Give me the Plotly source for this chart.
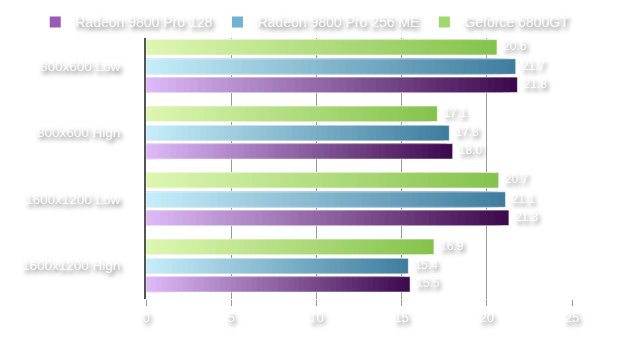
import plotly.graph_objects as go

categories = ["800x600 Low", "800x600 High", "1600x1200 Low", "1600x1200 High"]
series_names = ["Radeon 9800 Pro 128", "Radeon 9800 Pro 256 ME", "Geforce 6800GT"]
radeon_128 = [21.8, 18.0, 21.3, 15.5]
radeon_256 = [21.7, 17.8, 21.1, 15.4]
geforce = [20.6, 17.1, 20.7, 16.9]
x_ticks = [0, 5, 10, 15, 20, 25]

# style
series_values = [radeon_128, radeon_256, geforce]
offsets = [0.28, 0.005, -0.285]          # vertical offset within category
light = [(222, 186, 248), (198, 238, 250), (222, 247, 178)]
dark = [(60, 8, 76), (62, 124, 158), (132, 194, 76)]
legend_col = ["#9a5ab8", "#6eb2d4", "#9fd86c"]
BAR_W = 0.233
N = 50
FONT = "Liberation Sans, Arial, sans-serif"
SHADOW = "2px 3px 4px rgba(0,0,0,0.55)"


def mix(a, b, t):
    return "rgb(%d,%d,%d)" % tuple(round(a[j] + (b[j] - a[j]) * t) for j in range(3))


fig = go.Figure()

for s, vals in enumerate(series_values):
    xs, ys, cols = [], [], []
    for i, v in enumerate(vals):
        for k in range(N - 1, -1, -1):
            xs.append(v * (k + 1) / N)
            ys.append(i + offsets[s])
            cols.append(mix(light[s], dark[s], (k + 0.5) / N))
    fig.add_trace(go.Bar(
        x=xs, y=ys, base=0, orientation="h", width=BAR_W,
        marker=dict(color=cols, line=dict(width=0)),
        showlegend=False, hoverinfo="skip",
    ))
    # faint outline
    fig.add_trace(go.Bar(
        x=vals, y=[i + offsets[s] for i in range(len(vals))], orientation="h",
        width=BAR_W,
        marker=dict(color="rgba(0,0,0,0)", line=dict(color="rgba(255,255,255,0.6)", width=1)),
        showlegend=False, hoverinfo="skip",
    ))
    # value labels
    fig.add_trace(go.Scatter(
        x=vals, y=[i + offsets[s] for i in range(len(vals))],
        mode="markers+text", text=["%.1f" % v for v in vals],
        textposition="middle right",
        marker=dict(size=8, opacity=0),
        textfont=dict(color="white", size=12, family=FONT, shadow=SHADOW),
        showlegend=False, hoverinfo="skip",
    ))

for s, name in enumerate(series_names):
    fig.add_trace(go.Scatter(
        x=[None], y=[None], mode="markers", name=name,
        marker=dict(symbol="square", size=11, color=legend_col[s]),
    ))

fig.update_layout(
    width=622, height=351,
    margin=dict(l=146, r=50, t=33, b=52, autoexpand=False),
    paper_bgcolor="white", plot_bgcolor="white",
    barmode="overlay",
    font=dict(family=FONT, color="white", size=13, shadow=SHADOW),
    legend=dict(orientation="h", x=-0.26, xanchor="left", y=1.04, yanchor="middle",
                font=dict(size=14, color="white", shadow=SHADOW),
                itemwidth=30, tracegroupgap=0),
    xaxis=dict(range=[0, 25], tickvals=x_ticks, showgrid=True, gridcolor="#9a9a9a",
               gridwidth=1, zeroline=False, ticks="outside", ticklen=6, tickcolor="#9a9a9a",
               showline=False, tickfont=dict(size=13, color="white", shadow=SHADOW)),
    yaxis=dict(range=[3.5, -0.5], tickvals=list(range(len(categories))), ticktext=categories,
               showgrid=False, zeroline=False, showline=True, linecolor="#555555", linewidth=2,
               ticks="", ticklabelstandoff=21,
               tickfont=dict(size=13.5, color="white", shadow=SHADOW)),
)

fig.write_html("out.html")
